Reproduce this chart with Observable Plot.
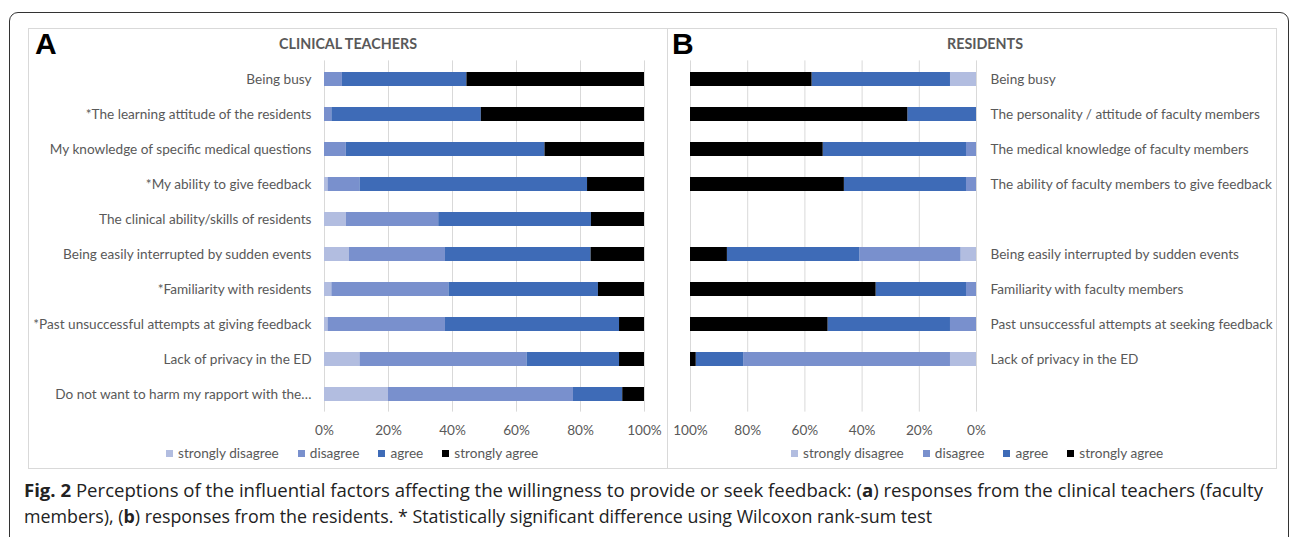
<!DOCTYPE html>
<html><head><meta charset="utf-8">
<script src="https://cdn.jsdelivr.net/npm/d3@7"></script>
<script src="https://cdn.jsdelivr.net/npm/@observablehq/plot@0.6"></script>
<style>
body{margin:0;background:#fff;}
#wrap{position:relative;width:1292px;height:537px;overflow:hidden;font-family:Lato,"Open Sans",sans-serif;}
.frame{position:absolute;left:9px;top:12px;width:1280px;height:600px;border:1.5px solid #333;border-radius:9px;box-sizing:border-box;}
.panel{position:absolute;top:28px;height:441px;border:1px solid #d9d9d9;box-sizing:border-box;}
.letter{position:absolute;font-family:"Liberation Sans",Arial,sans-serif;font-weight:bold;font-size:30px;line-height:30px;color:#000;}
.title{position:absolute;font-weight:bold;font-size:14.3px;color:#595959;transform:translateX(-50%);white-space:nowrap;line-height:16px;}
.legend{position:absolute;font-size:13.6px;color:#595959;white-space:nowrap;line-height:16px;}
.legend span.sw{display:inline-block;width:7px;height:7px;margin-right:5px;vertical-align:1px;}
.legend span.it{margin-right:19px;}
svg.cap{position:absolute;left:0;top:470px;}
</style></head>
<body><div id="wrap">
<div class="frame"></div>
<div class="panel" style="left:28px;width:640px"></div>
<div class="panel" style="left:667px;width:610px"></div>
<div class="letter" style="left:35px;top:29px">A</div>
<div class="letter" style="left:672px;top:29px">B</div>
<div class="title" style="left:348px;top:36px">CLINICAL TEACHERS</div>
<div class="title" style="left:985px;top:36px">RESIDENTS</div>
</div>
<script>
const levels = ["strongly disagree","disagree","agree","strongly agree"];
const levelColors = ["#b2bde0","#7990cd","#3e6bb7","#000000"];

const teacherFactors = [
 "Being busy",
 "*The learning attitude of the residents",
 "My knowledge of specific medical questions",
 "*My ability to give feedback",
 "The clinical ability/skills of residents",
 "Being easily interrupted by sudden events",
 "*Familiarity with residents",
 "*Past unsuccessful attempts at giving feedback",
 "Lack of privacy in the ED",
 "Do not want to harm my rapport with the\u2026"
];
const teacherSD = [0, 0, 0, 1.1, 6.8, 7.8, 2.3, 1.1, 11.1, 20.0];
const teacherD  = [5.6, 2.3, 6.8, 10.0, 28.9, 30.0, 36.6, 36.7, 52.2, 57.8];
const teacherA  = [38.9, 46.7, 62.1, 71.1, 47.7, 45.5, 46.7, 54.4, 28.9, 15.4];
const teacherSA = [55.5, 51.0, 31.1, 17.8, 16.6, 16.7, 14.4, 7.8, 7.8, 6.8];

const residentFactors = [
 "Being busy",
 "The personality / attitude of faculty members",
 "The medical knowledge of faculty members",
 "The ability of faculty members to give feedback",
 "",
 "Being easily interrupted by sudden events",
 "Familiarity with faculty members",
 "Past unsuccessful attempts at seeking feedback",
 "Lack of privacy in the ED",
 ""
];
const residentSD = [9.1, 0, 0, 0, null, 5.4, 0, 0, 9.1, null];
const residentD  = [0, 0, 3.5, 3.5, null, 35.4, 3.5, 9.1, 72.3, null];
const residentA  = [48.4, 24.0, 50.1, 42.7, null, 46.3, 31.6, 42.8, 16.6, null];
const residentSA = [42.5, 76.0, 46.4, 53.8, null, 12.9, 64.9, 48.1, 2.0, null];

const ticks = [0, 20, 40, 60, 80, 100];

function tidy(sd, d, a, sa) {
  const out = [];
  const series = [sd, d, a, sa];
  for (let i = 0; i < sd.length; i++) {
    series.forEach((s, k) => {
      if (s[i] != null) out.push({row: i, level: levels[k], value: s[i]});
    });
  }
  return out;
}

const common = {
  height: 441,
  marginTop: 32.4, marginBottom: 57.4,
  style: {fontSize: "13.6px", fontFamily: "Lato, 'Open Sans', sans-serif", color: "#595959", background: "transparent", overflow: "visible"},
  color: {domain: levels, range: levelColors}
};

function panel(data, labels, reverse, anchor, opts) {
  return Plot.plot({
    ...common, ...opts,
    x: {domain: reverse ? [100, 0] : [0, 100], label: null},
    y: {domain: d3.range(labels.length), paddingInner: 0.6, paddingOuter: 0.3, label: null},
    marks: [
      Plot.gridX(ticks, {stroke: "#d9d9d9", strokeOpacity: 1, strokeWidth: 1}),
      Plot.barX(data, Plot.stackX({x: "value", y: "row", fill: "level", order: levels})),
      Plot.axisX(ticks, {tickSize: 0, tickPadding: 13, tickFormat: d => d + "%", fill: "#595959"}),
      Plot.axisY({anchor, tickSize: 0, tickPadding: anchor === "left" ? 13 : 14, tickFormat: i => labels[i], fill: "#595959"})
    ]
  });
}

const wrap = document.getElementById("wrap");

const chartA = panel(tidy(teacherSD, teacherD, teacherA, teacherSA), teacherFactors, false, "left",
  {width: 639, marginLeft: 296, marginRight: 23});
chartA.style.position = "absolute"; chartA.style.left = "28px"; chartA.style.top = "28px";
wrap.appendChild(chartA);

const chartB = panel(tidy(residentSD, residentD, residentA, residentSA), residentFactors, true, "right",
  {width: 609, marginLeft: 23, marginRight: 300});
chartB.style.position = "absolute"; chartB.style.left = "667px"; chartB.style.top = "28px";
wrap.appendChild(chartB);

function legend(left, top) {
  const div = document.createElement("div");
  div.className = "legend";
  div.style.left = left + "px"; div.style.top = top + "px";
  levels.forEach((l, i) => {
    const it = document.createElement("span");
    it.className = "it";
    it.innerHTML = `<span class="sw" style="background:${levelColors[i]}"></span>${l}`;
    div.appendChild(it);
  });
  wrap.appendChild(div);
}
legend(166, 445);
legend(791, 445);

// caption
const ns = "http://www.w3.org/2000/svg";
const cap = document.createElementNS(ns, "svg");
cap.setAttribute("class", "cap");
cap.setAttribute("width", 1292); cap.setAttribute("height", 67);
const capLines = [
  {bold: "Fig. 2", rest: " Perceptions of the influential factors affecting the willingness to provide or seek feedback: (", b: "a", rest2: ") responses from the clinical teachers (faculty", y: 27, len: 1239},
  {bold: "", rest: "members), (", b: "b", rest2: ") responses from the residents. * Statistically significant difference using Wilcoxon rank-sum test", y: 53, len: 908}
];
capLines.forEach(l => {
  const t = document.createElementNS(ns, "text");
  t.setAttribute("x", 24); t.setAttribute("y", l.y);
  t.setAttribute("font-family", "'Open Sans', sans-serif");
  t.setAttribute("font-size", "18");
  t.setAttribute("fill", "#222");
  t.setAttribute("textLength", l.len);
  t.setAttribute("lengthAdjust", "spacingAndGlyphs");
  const parts = [[l.bold, true], [l.rest, false], [l.b, true], [l.rest2, false]];
  parts.forEach(([s, b]) => {
    if (!s) return;
    const ts = document.createElementNS(ns, "tspan");
    ts.textContent = s;
    if (b) ts.setAttribute("font-weight", "bold");
    t.appendChild(ts);
  });
  cap.appendChild(t);
});
wrap.appendChild(cap);
</script>
</body></html>
